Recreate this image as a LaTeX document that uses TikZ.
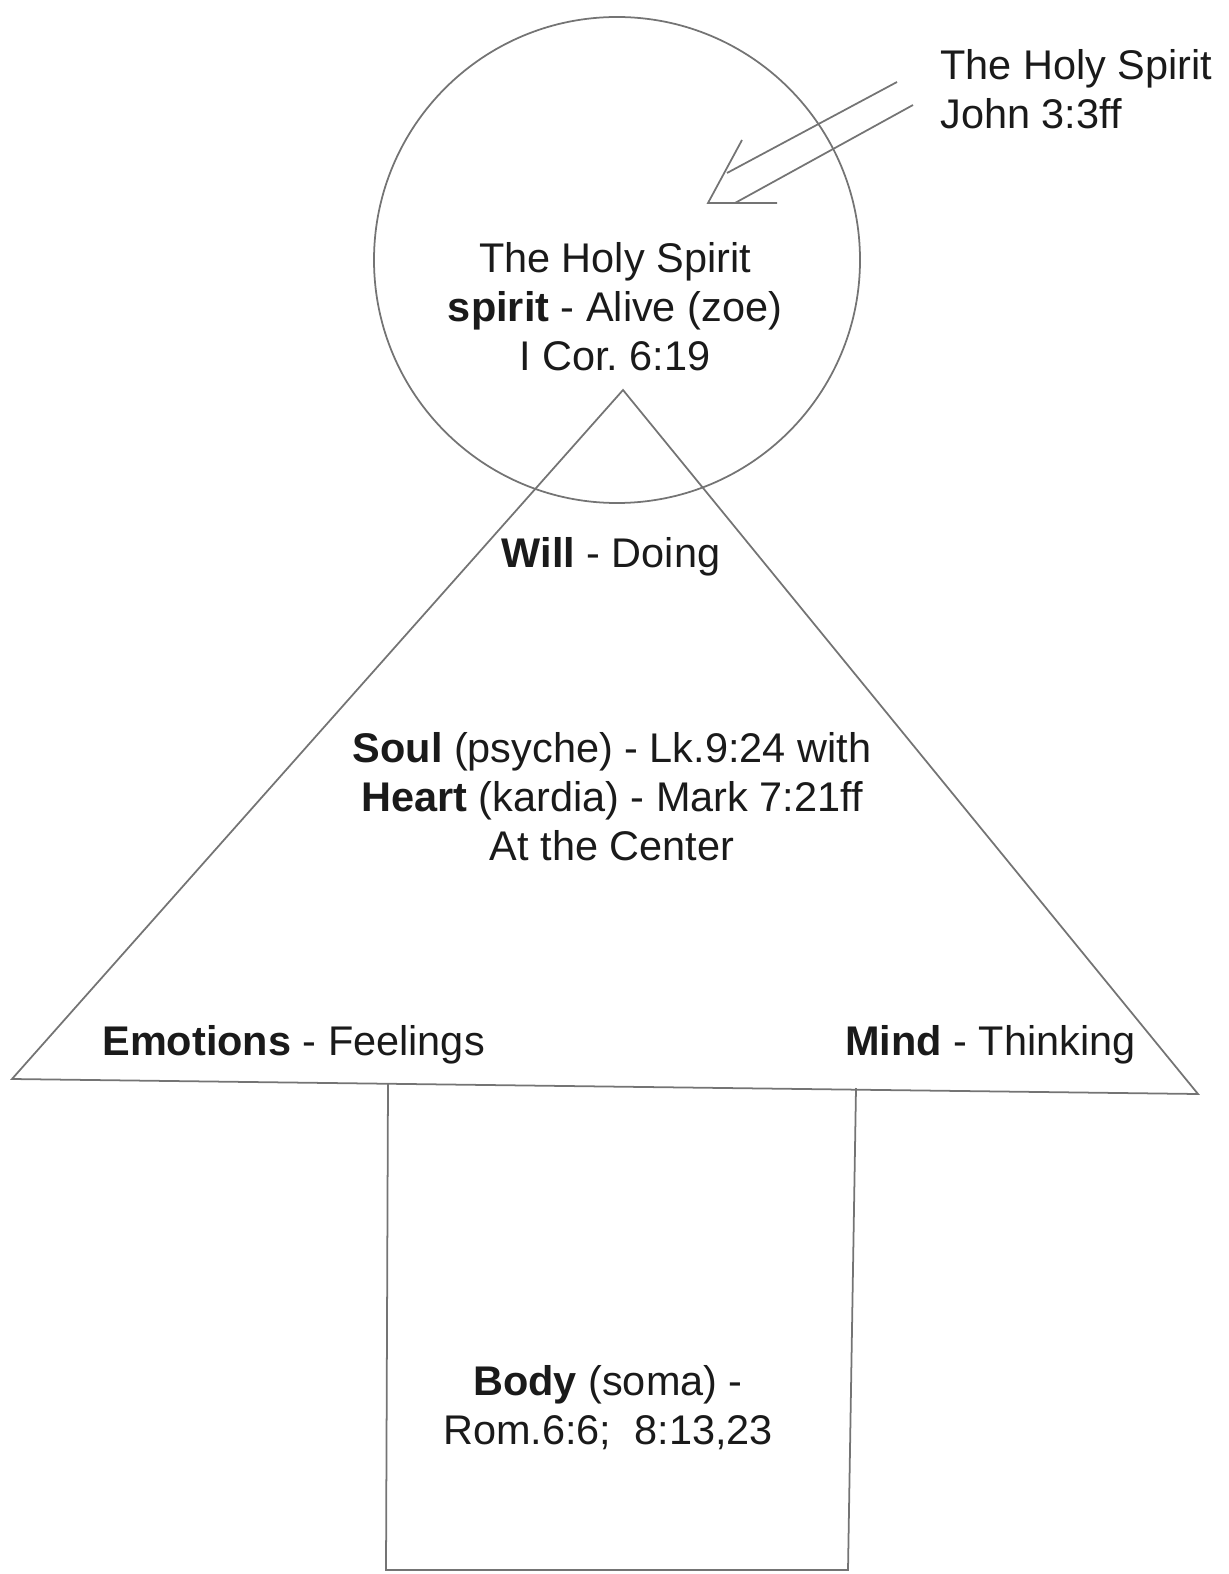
\documentclass[tikz,border=0pt]{standalone}
\usepackage{fontspec}
\setmainfont{Liberation Sans}
\definecolor{pencil}{HTML}{747474}
\definecolor{ink}{HTML}{1A1A1A}
\frenchspacing

\begin{document}
\begin{tikzpicture}[x=0.02cm, y=-0.02cm,
  txt/.style={text=ink, font=\fontsize{23.6}{27.9}\selectfont, inner sep=0pt, align=center},
  stroke/.style={draw=pencil, line width=1pt}]
\useasboundingbox (0,0) rectangle (1228,1574);

% Spirit circle
\draw[stroke] (617,260) circle[radius=243];
\node[txt] (spirit) at (615,307) {The Holy Spirit\\\textbf{spirit} - Alive (zoe)\\I Cor. 6:19};

% Holy Spirit entering
\node[txt, align=left, anchor=west] (giver) at (940,89) {The Holy Spirit\\John 3:3ff};
\coordinate (s1) at (897,82);
\coordinate (e1) at (727,173);
\coordinate (s2) at (913,105);
\coordinate (e2) at (735,203);
\coordinate (tip) at (708,203);
\coordinate (barb1) at (742,140);
\coordinate (barb2) at (777,203);
\draw[stroke] (s1) -- (e1);
\draw[stroke] (s2) -- (e2);
\draw[stroke] (barb1) -- (tip) -- (barb2);

% Soul triangle
\coordinate (apex) at (623,390);
\coordinate (bl) at (12,1079);
\coordinate (br) at (1198,1094);
\draw[stroke] (apex) -- (bl) -- (br) -- cycle;
\node[txt, anchor=base] (will) at (611,567) {\textbf{Will} - Doing};
\node[txt] (soul) at (612,797) {\textbf{Soul} (psyche) - Lk.9:24 with\\\textbf{Heart} (kardia) - Mark 7:21ff\\At the Center};
\node[txt, anchor=base west] (emotions) at (102,1055) {\textbf{Emotions} - Feelings};
\node[txt, anchor=base west] (mind) at (845,1055) {\textbf{Mind} - Thinking};

% Body box
\draw[stroke] (388,1083) -- (386,1570) -- (848,1570) -- (856,1088);
\node[txt] (body) at (608,1408) {\textbf{Body} (soma) -\\Rom.6:6;\ \ 8:13,23};
\end{tikzpicture}
\end{document}
